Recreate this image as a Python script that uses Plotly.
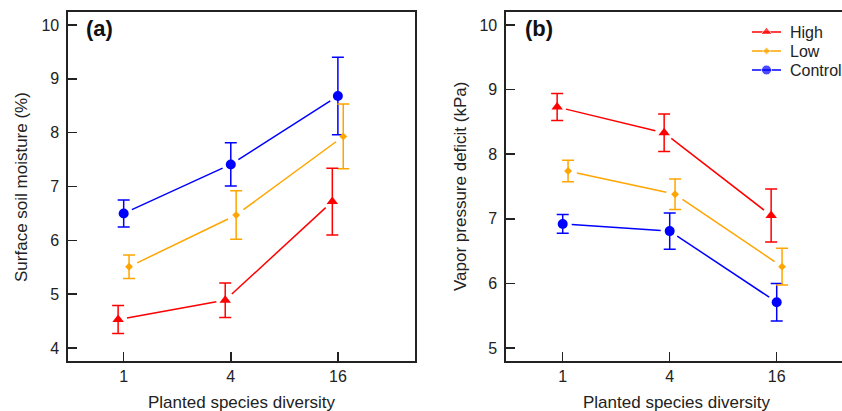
import plotly.graph_objects as go

# ---------------- data ----------------
diversity_labels = ["1", "4", "16"]
groups = ["High", "Low", "Control"]

# panel (a) Surface soil moisture (%)
moist_high = [4.53, 4.89, 6.72]
moist_high_se = [0.26, 0.32, 0.62]
moist_low = [5.51, 6.47, 7.93]
moist_low_se = [0.22, 0.45, 0.60]
moist_ctrl = [6.50, 7.41, 8.68]
moist_ctrl_se = [0.25, 0.40, 0.72]

# panel (b) Vapor pressure deficit (kPa)
vpd_high = [8.73, 8.33, 7.05]
vpd_high_se = [0.21, 0.29, 0.41]
vpd_low = [7.74, 7.38, 6.26]
vpd_low_se = [0.165, 0.235, 0.285]
vpd_ctrl = [6.92, 6.81, 5.71]
vpd_ctrl_se = [0.145, 0.28, 0.29]

colors = {"High": "#FF0000", "Low": "#FFA500", "Control": "#0000FF"}
symbols = {"High": "triangle-up", "Low": "diamond", "Control": "circle"}
sizes = {"High": 10, "Low": 6, "Control": 10}
dodge = {"High": -0.052, "Low": 0.05, "Control": 0.0}

W, H = 842, 411
ML, MR, MT, MB = 0, 0, 12, 50
plot_h = H - MT - MB

dom_a = [68 / W, 415 / W]
dom_b = [506 / W, 1.0]
xr_a = [-0.52, 2.72]
yr_a = [3.76, 10.24]
xr_b = [-0.53, -0.53 + (W - 506) / 107.0]
yr_b = [4.80, 10.20]

fig = go.Figure()

GAP = 9.0  # pixel gap between line ends and points (R type="b")


def add_series(name, ys, errs, xa, ya, xr, yr, dom):
    xs = [i + dodge[name] for i in range(len(ys))]
    pw = (dom[1] - dom[0]) * W
    sx = pw / (xr[1] - xr[0])
    sy = plot_h / (yr[1] - yr[0])
    c = colors[name]
    for i in range(len(xs) - 1):
        x0, y0, x1, y1 = xs[i], ys[i], xs[i + 1], ys[i + 1]
        dxp = (x1 - x0) * sx
        dyp = (y1 - y0) * sy
        L = (dxp ** 2 + dyp ** 2) ** 0.5
        f = GAP / L
        fig.add_trace(go.Scatter(
            x=[x0 + f * (x1 - x0), x1 - f * (x1 - x0)],
            y=[y0 + f * (y1 - y0), y1 - f * (y1 - y0)],
            mode="lines", line=dict(color=c, width=1.5),
            xaxis=xa, yaxis=ya, showlegend=False, hoverinfo="skip"))
    fig.add_trace(go.Scatter(
        x=xs, y=ys, mode="markers", name=name,
        marker=dict(symbol=symbols[name], size=sizes[name], color=c),
        error_y=dict(type="data", array=errs, color=c, thickness=1.5, width=6),
        xaxis=xa, yaxis=ya, showlegend=False))


add_series("Control", moist_ctrl, moist_ctrl_se, "x", "y", xr_a, yr_a, dom_a)
add_series("Low", moist_low, moist_low_se, "x", "y", xr_a, yr_a, dom_a)
add_series("High", moist_high, moist_high_se, "x", "y", xr_a, yr_a, dom_a)
add_series("Control", vpd_ctrl, vpd_ctrl_se, "x2", "y2", xr_b, yr_b, dom_b)
add_series("Low", vpd_low, vpd_low_se, "x2", "y2", xr_b, yr_b, dom_b)
add_series("High", vpd_high, vpd_high_se, "x2", "y2", xr_b, yr_b, dom_b)

FONT = "Liberation Sans, Arial, sans-serif"
tickfont = dict(family=FONT, size=16, color="#222")
titlefont = dict(family=FONT, size=17, color="#222")

# ---- hand-drawn legend (R style, compact rows) on a pixel overlay axis ----
LEG_X0, LEG_X1, LEG_TX, LEG_Y0, LEG_DY = 752, 781, 788, 32, 19
legend_annotations = []
for i, g in enumerate(groups):
    yy = LEG_Y0 + LEG_DY * i
    fig.add_trace(go.Scatter(
        x=[LEG_X0, (LEG_X0 + LEG_X1) / 2, LEG_X1], y=[yy, yy, yy],
        mode="lines+markers", line=dict(color=colors[g], width=1.5),
        marker=dict(symbol=symbols[g], size=[0, sizes[g], 0], color=colors[g]),
        xaxis="x3", yaxis="y3", showlegend=False, hoverinfo="skip"))
    legend_annotations.append(dict(
        text=g, x=LEG_TX, y=yy, xref="x3", yref="y3", xanchor="left", yanchor="middle",
        showarrow=False, font=dict(family=FONT, size=16, color="#222")))

common_x = dict(tickmode="array", tickvals=[0, 1, 2], ticktext=diversity_labels,
                ticks="inside", ticklen=9, tickwidth=1.5, tickcolor="#222",
                showline=True, linecolor="#222", linewidth=1.6, showgrid=False,
                zeroline=False, tickfont=tickfont, fixedrange=True,
                automargin=False, ticklabelstandoff=0)
common_y = dict(ticks="inside", ticklen=9, tickwidth=1.5, tickcolor="#222",
                showline=True, linecolor="#222", linewidth=1.6, showgrid=False,
                zeroline=False, tickfont=tickfont, dtick=1, fixedrange=True,
                automargin=False, ticklabelstandoff=4)


def py(p):
    """pixel y (from top) -> paper y"""
    return (H - MB - p) / plot_h


def px(p):
    return p / W


fig.update_layout(
    width=W, height=H,
    margin=dict(l=ML, r=MR, t=MT, b=MB),
    paper_bgcolor="white", plot_bgcolor="rgba(0,0,0,0)",
    showlegend=False,
    xaxis=dict(domain=dom_a, range=xr_a, mirror=True, anchor="y", **common_x),
    yaxis=dict(domain=[0, 1], range=yr_a, mirror=True, anchor="x", **common_y),
    xaxis2=dict(domain=dom_b, range=xr_b, mirror=True, anchor="y2", **common_x),
    yaxis2=dict(domain=[0, 1], range=yr_b, mirror=False, anchor="x2", **common_y),
    xaxis3=dict(domain=[0, 1], range=[0, W], visible=False, anchor="y3",
                fixedrange=True, automargin=False),
    yaxis3=dict(domain=[0, 1], range=[H - MB, MT], visible=False, anchor="x3",
                fixedrange=True, automargin=False),
    annotations=[
        dict(text="<b>(a)</b>", x=px(84), y=py(28), xref="paper", yref="paper",
             xanchor="left", yanchor="middle", showarrow=False,
             font=dict(family=FONT, size=22, color="#111")),
        dict(text="<b>(b)</b>", x=px(523), y=py(28), xref="paper", yref="paper",
             xanchor="left", yanchor="middle", showarrow=False,
             font=dict(family=FONT, size=22, color="#111")),
        dict(text="Planted species diversity", x=px(242), y=py(402), xref="paper", yref="paper",
             xanchor="center", yanchor="middle", showarrow=False, font=titlefont),
        dict(text="Planted species diversity", x=px(677), y=py(402), xref="paper", yref="paper",
             xanchor="center", yanchor="middle", showarrow=False, font=titlefont),
        dict(text="Surface soil moisture (%)", x=px(21), y=py(187), xref="paper", yref="paper",
             xanchor="center", yanchor="middle", showarrow=False, textangle=-90, font=titlefont),
        dict(text="Vapor pressure deficit (kPa)", x=px(460), y=py(187), xref="paper", yref="paper",
             xanchor="center", yanchor="middle", showarrow=False, textangle=-90, font=titlefont),
    ] + legend_annotations,
)

fig.write_html("out.html", config={"displayModeBar": False, "staticPlot": True},
               post_script="document.body.style.margin='0';document.body.style.overflow='hidden';")
